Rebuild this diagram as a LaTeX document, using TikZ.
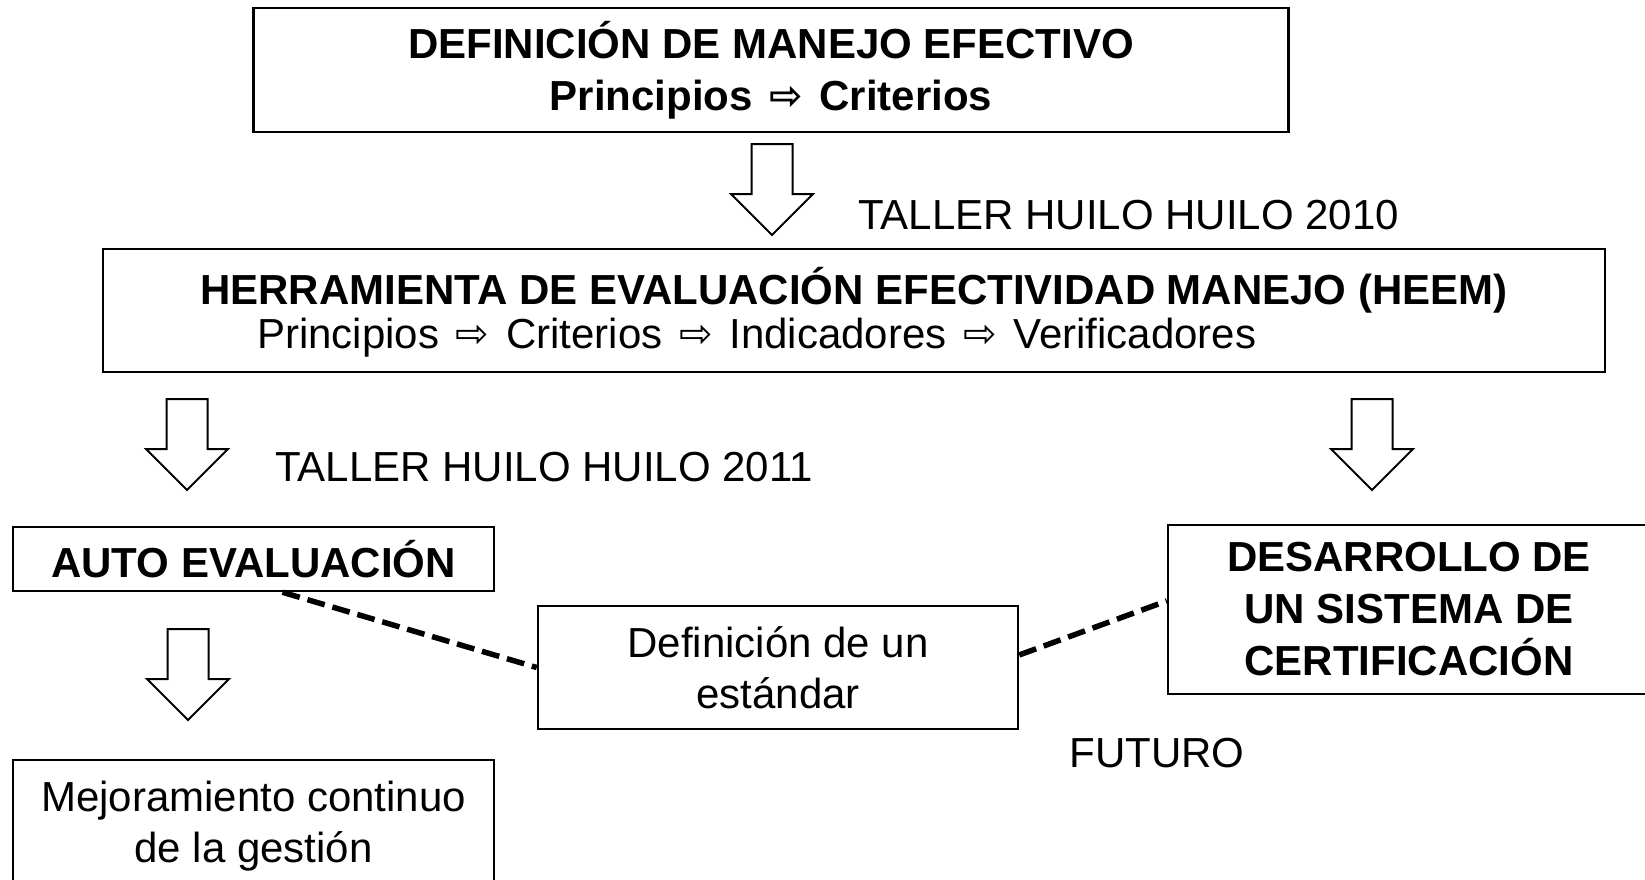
\documentclass[tikz,border=0pt]{standalone}
\usepackage{fontspec}
\setmainfont{Liberation Sans}
\newfontfamily\arrowfont{DejaVu Sans}
\usetikzlibrary{shapes.arrows,calc}
\newcommand{\thento}{\hspace{5pt}\raisebox{1pt}{\arrowfont\fontsize{40}{42}\selectfont ⇨}\hspace{5pt}}

\begin{document}
\begin{tikzpicture}[x=1pt,y=-1pt,inner sep=0pt,
  font=\fontsize{42}{51}\selectfont,
  box/.style = {draw, line width=2.5pt, align=center},
  title/.style = {box, font=\fontsize{42}{52}\selectfont\bfseries},
  blockarrow/.style = {draw, line width=2pt, single arrow, rotate=-90,
    minimum height=91pt, single arrow head extend=20.5pt,
    inner xsep=0pt, inner ysep=19.5pt, text height=0pt, text depth=0pt,
    anchor=tail},
  link/.style = {line width=5.5pt, dash pattern=on 18pt off 8pt}]
\useasboundingbox (0,0) rectangle (1645,879);

% top level
\node[title, minimum width=1035pt, minimum height=124pt] (def) at (771,70)
  {DEFINICIÓN DE MANEJO EFECTIVO\\Principios \thento{} Criterios};
\node[blockarrow] (a1) at (772,143) {};
\node[anchor=west] (t2010) at (858,215) {TALLER HUILO HUILO 2010};

% the tool
\node[box, minimum width=1502pt, minimum height=123pt] (heem) at (854,310.5) {};
\node[font=\fontsize{42}{51}\selectfont\bfseries] (heemtitle) at (854,290)
  {HERRAMIENTA DE EVALUACIÓN EFECTIVIDAD MANEJO (HEEM)};
\node[anchor=west] (heemsteps) at (257,338)
  {Principios \thento{} Criterios \thento{} Indicadores \thento{} Verificadores};

\node[blockarrow] (a2) at (187,398) {};
\node[blockarrow] (a3) at (1372,398) {};
\node[anchor=west] (t2011) at (275,467) {TALLER HUILO HUILO 2011};

% lower level
\node[title, minimum width=481pt, minimum height=64pt] (auto) at (253.5,559) {AUTO EVALUACIÓN};
\node[title, minimum width=482pt, minimum height=169pt] (cert) at (1409,609.5)
  {DESARROLLO DE\\UN SISTEMA DE\\CERTIFICACIÓN};
\node[box, minimum width=480pt, minimum height=123pt] (std) at (778,667.5)
  {Definición de un\\estándar};
\node[blockarrow] (a4) at (188,628) {};
\node[box, minimum width=481pt, minimum height=132pt] (mejora) at (253.5,826)
  {Mejoramiento continuo\\de la gestión};
\node (futuro) at (1157,753) {FUTURO};

\draw[link] ($(auto.south west)!0.56!(auto.south east)$) -- (std.west);
\draw[link] ($(std.north east)!0.4!(std.south east)$) -- ($(cert.north west)!0.45!(cert.south west)$);
\end{tikzpicture}
\end{document}
